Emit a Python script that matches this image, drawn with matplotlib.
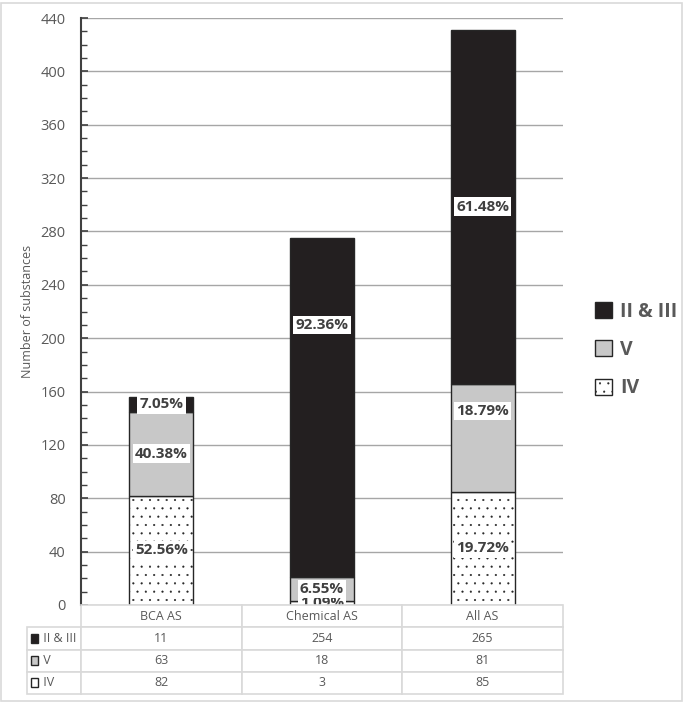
import numpy as np
import matplotlib.pyplot as plt
from matplotlib.patches import Patch, Rectangle

categories = ['BCA AS', 'Chemical AS', 'All AS']
series_names = ['IV', 'V', 'II & III']
iv_vals = [82, 3, 85]
v_vals = [63, 18, 81]
ii_iii_vals = [11, 254, 265]

plt.rcParams['font.family'] = ['Open Sans', 'DejaVu Sans']
plt.rcParams['hatch.linewidth'] = 0.3

text_grey = '#595959'
fills = {'IV': 'white', 'V': '#c8c8c8', 'II & III': '#231f20'}
hatches = {'IV': '..', 'V': None, 'II & III': None}

fig = plt.figure(figsize=(6.85, 7.02), dpi=100)
ax = fig.add_axes([81 / 685, 1 - 605 / 702, 482 / 685, 587 / 702])

x = np.arange(len(categories))
values = {'IV': iv_vals, 'V': v_vals, 'II & III': ii_iii_vals}
totals = np.array(iv_vals) + np.array(v_vals) + np.array(ii_iii_vals)

# label spots that were dragged away from the segment middle in the original
moved = {('II & III', 1): 210, ('V', 2): 145.5}

bottom = np.zeros(len(categories))
for name in series_names:
    vals = np.array(values[name])
    ax.bar(x, vals, 0.4, bottom=bottom, color=fills[name], edgecolor='#262626',
           linewidth=1.0, hatch=hatches[name], zorder=2)
    for i, v in enumerate(vals):
        y = moved.get((name, i), bottom[i] + v / 2)
        ax.text(x[i], y, f'{v / totals[i] * 100:.2f}%', ha='center', va='center',
                fontsize=11, fontweight='bold', color='#404040', zorder=5,
                bbox=dict(boxstyle='square,pad=0.15', fc='white', ec='none'))
    bottom += vals

ax.set_xlim(-0.5, 2.5)
ax.set_ylim(0, 440)
ax.set_yticks(np.arange(0, 441, 40))
ax.set_yticks(np.arange(0, 441, 10), minor=True)
ax.yaxis.grid(True, color='#a6a6a6', linewidth=1.0, zorder=0)
ax.set_axisbelow(True)
for s in ['top', 'right', 'bottom']:
    ax.spines[s].set_visible(False)
ax.spines['left'].set_color('#404040')
ax.spines['left'].set_linewidth(1.5)
ax.tick_params(axis='y', which='major', direction='in', length=5, width=1.2,
               color='#404040', labelcolor=text_grey, labelsize=10.5, pad=11)
ax.tick_params(axis='y', which='minor', direction='in', length=4, width=1.0, color='#404040')
ax.set_xticks([])
ax.set_ylabel('Number of substances', fontsize=9, color=text_grey, labelpad=5)

# data table under the plot; first column holds the row names
row_order = ['II & III', 'V', 'IV']
cell_text = [['     ' + r] + [str(v) for v in values[r]] for r in row_order]
tbl = ax.table(cellText=cell_text, colLabels=[''] + categories,
               colWidths=[54, 161, 161, 161], cellLoc='center',
               bbox=[-54 / 482, -89 / 587, 536 / 482, 89 / 587])
tbl.auto_set_font_size(False)
tbl.set_zorder(6)
for (r, c), cell in tbl.get_celld().items():
    cell.set_edgecolor('#d9d9d9')
    cell.set_linewidth(1.2)
    cell.get_text().set_color(text_grey)
    cell.get_text().set_fontsize(9)
    if c == 0:
        cell.get_text().set_horizontalalignment('left')
        cell.PAD = 0.0
    if r == 0 and c == 0:
        cell.visible_edges = ''
        cell.set_facecolor('none')

# little key squares in the row labels
for k, name in enumerate(row_order):
    yc = 639 + 22 * k
    sq = Rectangle((31 / 685, 1 - (yc + 4) / 702), 7 / 685, 9 / 702,
                   transform=fig.transFigure, facecolor=fills[name],
                   edgecolor='#262626', linewidth=1.0, zorder=10)
    fig.patches.append(sq)

handles = [Patch(facecolor=fills[n], edgecolor='#262626', hatch=hatches[n], label=n)
           for n in row_order]
leg = fig.legend(handles=handles, loc='center left', bbox_to_anchor=(577 / 685, 1 - 350 / 702),
                 frameon=False, handlelength=0.9, handleheight=0.9, handletextpad=0.4,
                 labelspacing=0.95, prop={'size': 14, 'weight': 'bold'})
for t in leg.get_texts():
    t.set_color(text_grey)

fig.patches.append(Rectangle((0.002, 0.002), 0.993, 0.994, transform=fig.transFigure,
                             facecolor='none', edgecolor='#d9d9d9', linewidth=1.2))

fig.savefig('out.png', dpi=100)
